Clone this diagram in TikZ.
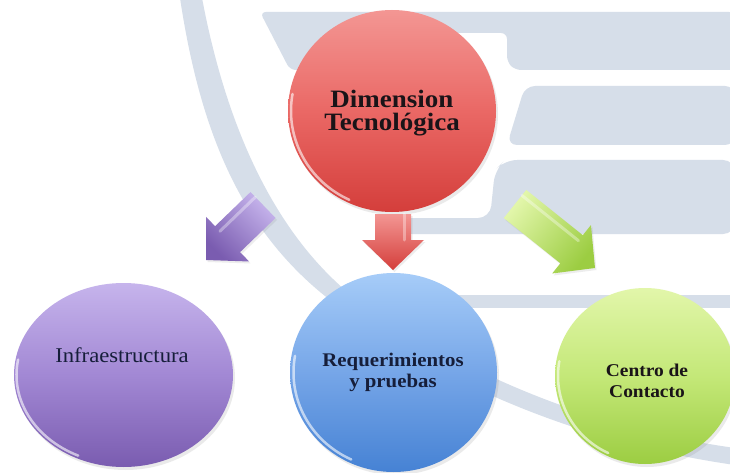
\documentclass[tikz,border=0pt]{standalone}
\usepackage{fontspec}
\newfontfamily\capfont[FakeStretch=1.08]{Liberation Serif}
\usetikzlibrary{shapes.geometric,shadows,calc}

\definecolor{wm}{RGB}{214,222,233}
\definecolor{redT}{RGB}{243,150,147}
\definecolor{redM}{RGB}{234,104,101}
\definecolor{redB}{RGB}{212,62,59}
\definecolor{purT}{RGB}{198,180,236}
\definecolor{purM}{RGB}{162,136,212}
\definecolor{purB}{RGB}{122,92,176}
\definecolor{bluT}{RGB}{166,204,248}
\definecolor{bluM}{RGB}{118,166,232}
\definecolor{bluB}{RGB}{70,130,212}
\definecolor{grnT}{RGB}{226,246,170}
\definecolor{grnM}{RGB}{196,232,120}
\definecolor{grnB}{RGB}{156,205,66}
\definecolor{txtdark}{RGB}{26,20,24}
\definecolor{txtnavy}{RGB}{22,30,58}

\newcommand{\blockarr}[5]{% #1 name, #2 light, #3 dark, #4 shading angle, #5 gloss side
  \coordinate (#1-h) at ($(#1-tip)!30pt!(#1-tail)$);
  \path[arrowbody, top color=#2, bottom color=#3, shading angle=#4]
    ($(#1-tail)!18pt!90:(#1-tip)$) -- ($(#1-h)!18pt!90:(#1-tip)$) --
    ($(#1-h)!31pt!90:(#1-tip)$) -- (#1-tip) --
    ($(#1-h)!31pt!-90:(#1-tip)$) -- ($(#1-h)!18pt!-90:(#1-tip)$) --
    ($(#1-tail)!18pt!-90:(#1-tip)$) -- cycle;
  \draw[arrowgloss] ($(#1-tail)!11pt!#5:(#1-tip)$) -- ($(#1-h)!11pt!#5:(#1-tip)$);
}

\begin{document}
\begin{tikzpicture}[x=1pt,y=-1pt,
  bubble/.style={ellipse, inner sep=0pt, draw=none,
    drop shadow={shadow xshift=2pt, shadow yshift=-3pt, opacity=0.16}},
  rim/.style={white, opacity=0.6, line width=2.5pt, line cap=round},
  arrowbody/.style={drop shadow={shadow xshift=1.5pt, shadow yshift=-2pt, opacity=0.14}},
  arrowgloss/.style={white, opacity=0.35, line width=3pt, line cap=round},
  lbl/.style={align=center, inner sep=0pt},
  boldlbl/.style={lbl, font=\capfont\bfseries},
]
\useasboundingbox (0,0) rectangle (730,473);
\fill[white] (0,0) rectangle (730,473);

% ---- watermark background ----
\fill[wm] (180,-2) .. controls (200,130) and (240,230) .. (330,300)
  .. controls (420,370) and (560,440) .. (735,465) -- (735,448)
  .. controls (570,425) and (440,360) .. (345,290)
  .. controls (270,225) and (225,120) .. (202,-2) -- cycle;
\fill[wm, rounded corners=6pt] (260,12) -- (735,12) -- (735,70) -- (515,70)
  -- (507,62) -- (507,33) -- (420,33) -- (420,70) -- (290,70) -- cycle;
\fill[wm, rounded corners=10pt] (525,86) -- (735,86) -- (735,145) -- (507,145) -- cycle;
\fill[wm, rounded corners=12pt] (505,160) -- (735,160) -- (735,234) -- (400,234)
  -- (400,218) -- (490,218) -- (495,170) -- cycle;
\fill[wm] (450,295) rectangle (735,308);

% ---- bubbles ----
\node[bubble, top color=redT, bottom color=redB, middle color=redM,
  minimum width=208pt, minimum height=202pt] (dim) at (392,111) {};
\node[bubble, top color=purT, bottom color=purB, middle color=purM,
  minimum width=219pt, minimum height=184pt] (inf) at (123.5,375) {};
\node[bubble, top color=bluT, bottom color=bluB, middle color=bluM,
  minimum width=207pt, minimum height=199pt] (req) at (393.5,372.5) {};
\node[bubble, top color=grnT, bottom color=grnB, middle color=grnM,
  minimum width=180pt, minimum height=176pt] (cen) at (645,376) {};

\draw[rim] (dim.center) ++(115:101 and 98) arc[start angle=115, end angle=190, x radius=101, y radius=98];
\draw[rim] (inf.center) ++(115:107 and 89) arc[start angle=115, end angle=190, x radius=107, y radius=89];
\draw[rim] (req.center) ++(115:100 and 96) arc[start angle=115, end angle=190, x radius=100, y radius=96];
\draw[rim] (cen.center) ++(115:87 and 85) arc[start angle=115, end angle=190, x radius=87, y radius=85];

% ---- block arrows ----
\coordinate (pa-tail) at (263,205);
\coordinate (pa-tip) at (206,260);
\coordinate (ra-tail) at (393,214);
\coordinate (ra-tip) at (393,270);
\coordinate (ga-tail) at (515,204);
\coordinate (ga-tip) at (595,268);
\blockarr{pa}{purT}{purB}{-45}{-90}
\blockarr{ra}{redT}{redB}{0}{90}
\blockarr{ga}{grnT}{grnB}{51}{90}

% ---- texts ----
\node[boldlbl, text=txtdark, font=\capfont\bfseries\fontsize{25}{23}\selectfont]
  (dimT) at (392,113) {Dimension\\Tecnológica};
\node[lbl, text=txtnavy, font=\capfont\fontsize{21}{20}\selectfont]
  (infT) at (122,355) {Infraestructura};
\node[boldlbl, text=txtnavy, font=\capfont\bfseries\fontsize{19.3}{21}\selectfont]
  (reqT) at (393,372.5) {Requerimientos\\y pruebas};
\node[boldlbl, text=txtdark, font=\capfont\bfseries\fontsize{18}{20.5}\selectfont]
  (cenT) at (647,381) {Centro de\\Contacto};
\end{tikzpicture}
\end{document}
